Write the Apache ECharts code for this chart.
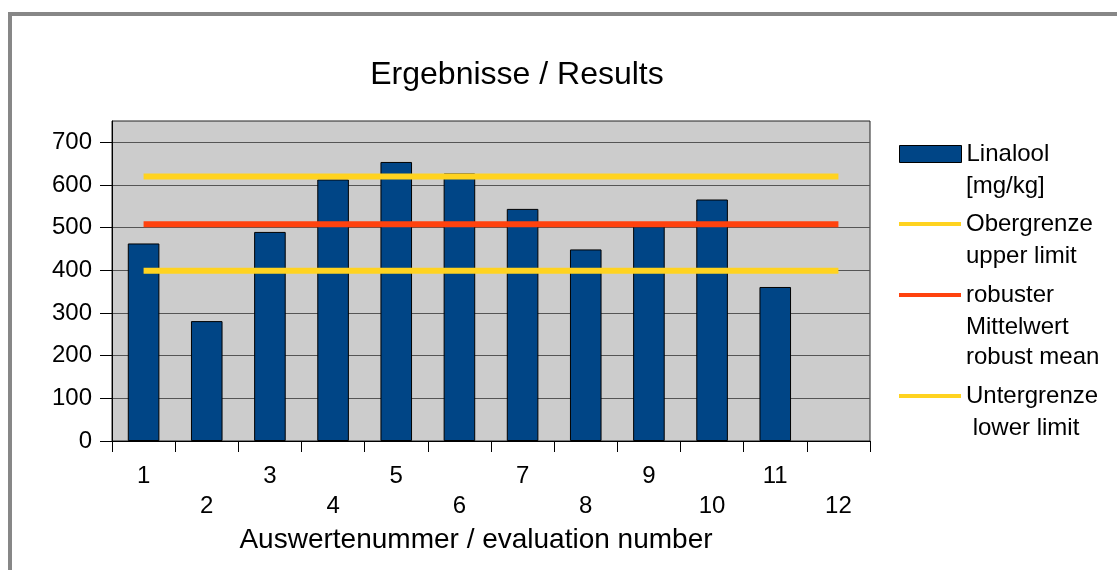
<!DOCTYPE html>
<html>
<head>
<meta charset="utf-8">
<script src="https://cdn.jsdelivr.net/npm/echarts@6/dist/echarts.min.js"></script>
<style>
  html, body { margin: 0; padding: 0; background: #fff; }
  #chart { width: 1117px; height: 570px; }
</style>
</head>
<body>
<div id="chart"></div>
<script>
// evaluation numbers
const categories = ['1', '2', '3', '4', '5', '6', '7', '8', '9', '10', '11', '12'];
// Linalool results [mg/kg], lab 12 has no bar
const linalool = [463, 281, 490, 613, 654, 627, 544, 449, 503, 566, 361, null];
const upperLimit = [620, 620, 620, 620, 620, 620, 620, 620, 620, 620, 620, 620];
const robustMean = [508, 508, 508, 508, 508, 508, 508, 508, 508, 508, 508, 508];
const lowerLimit = [399, 399, 399, 399, 399, 399, 399, 399, 399, 399, 399, 399];
const yTicks = [0, 100, 200, 300, 400, 500, 600, 700];

const names = ['Linalool\n[mg/kg]', 'Obergrenze\nupper limit', 'robuster\nMittelwert\nrobust mean', 'Untergrenze\n lower limit'];
const legendY = [154, 224, 295, 396];

const FONT = 'Liberation Sans';
const LH = 30;
const chart = echarts.init(document.getElementById('chart'), null, { renderer: 'canvas' });

// one legend per entry: icon + first line; further lines are added as plain text below
const legends = [];
const legendText = [];
names.forEach((name, k) => {
    const lines = name.split('\n');
    legends.push({
        orient: 'vertical',
        left: 899,
        top: legendY[k] - LH / 2,
        padding: 0,
        itemWidth: 62,
        itemHeight: k === 0 ? 17 : 4,
        icon: 'rect',
        selectedMode: false,
        data: [name],
        itemStyle: k === 0 ? { borderColor: '#000', borderWidth: 1 } : { borderWidth: 0 },
        formatter: nm => nm.split('\n')[0],
        textStyle: { fontFamily: FONT, fontSize: 24, color: '#000', lineHeight: LH }
    });
    lines.slice(1).forEach((s, j) => {
        legendText.push({
            type: 'text',
            left: 966,
            top: legendY[k] + 2 + (j + 1) * LH - LH / 2,
            style: { text: s, font: '24px "' + FONT + '"', fill: '#000', lineHeight: LH },
            silent: true
        });
    });
});

const option = {
    animation: false,
    backgroundColor: '#fff',
    title: {
        text: 'Ergebnisse / Results',
        left: 517,
        top: 59,
        padding: 0,
        textAlign: 'center',
        textStyle: { fontFamily: FONT, fontSize: 32, fontWeight: 'normal', color: '#000' }
    },
    graphic: [{
        type: 'rect',
        shape: { x: 10, y: 14, width: 1300, height: 800 },
        style: { fill: 'none', stroke: '#878787', lineWidth: 4 },
        silent: true
    }].concat(legendText),
    legend: legends,
    grid: {
        left: 112, right: 247, top: 121, bottom: 129,
        show: true,
        backgroundColor: '#cccccc',
        borderColor: '#222',
        borderWidth: 1
    },
    xAxis: {
        type: 'category',
        data: categories,
        name: 'Auswertenummer / evaluation number',
        nameLocation: 'middle',
        nameGap: 84,
        nameTextStyle: { fontFamily: FONT, fontSize: 28, color: '#000', padding: [0, 30, 0, 0] },
        axisLine: { lineStyle: { color: '#000', width: 1 } },
        axisTick: { show: true, length: 11, lineStyle: { color: '#000' } },
        axisLabel: {
            interval: 0,
            margin: 20,
            fontFamily: FONT, fontSize: 24, color: '#000', lineHeight: 30,
            formatter: (v, i) => (i % 2 === 0 ? v : '\n' + v)
        }
    },
    yAxis: {
        type: 'value',
        min: 0,
        max: 750,
        interval: 100,
        axisLine: { show: true, lineStyle: { color: '#000', width: 1 } },
        axisTick: { show: true, length: 12, customValues: yTicks, lineStyle: { color: '#000' } },
        axisLabel: {
            margin: 20,
            customValues: yTicks,
            fontFamily: FONT, fontSize: 24, color: '#000'
        },
        splitLine: { show: true, lineStyle: { color: '#555', width: 1 } }
    },
    series: [{
        name: names[0],
        type: 'bar',
        data: linalool,
        barWidth: '50%',
        itemStyle: { color: '#004586', borderColor: '#000', borderWidth: 1 }
    }, {
        name: names[1],
        type: 'line',
        data: upperLimit,
        symbol: 'none',
        color: '#ffd320',
        lineStyle: { color: '#ffd320', width: 6 }
    }, {
        name: names[2],
        type: 'line',
        data: robustMean,
        symbol: 'none',
        color: '#ff420e',
        lineStyle: { color: '#ff420e', width: 6 }
    }, {
        name: names[3],
        type: 'line',
        data: lowerLimit,
        symbol: 'none',
        color: '#ffd320',
        lineStyle: { color: '#ffd320', width: 6 }
    }]
};

chart.setOption(option);
</script>
</body>
</html>
